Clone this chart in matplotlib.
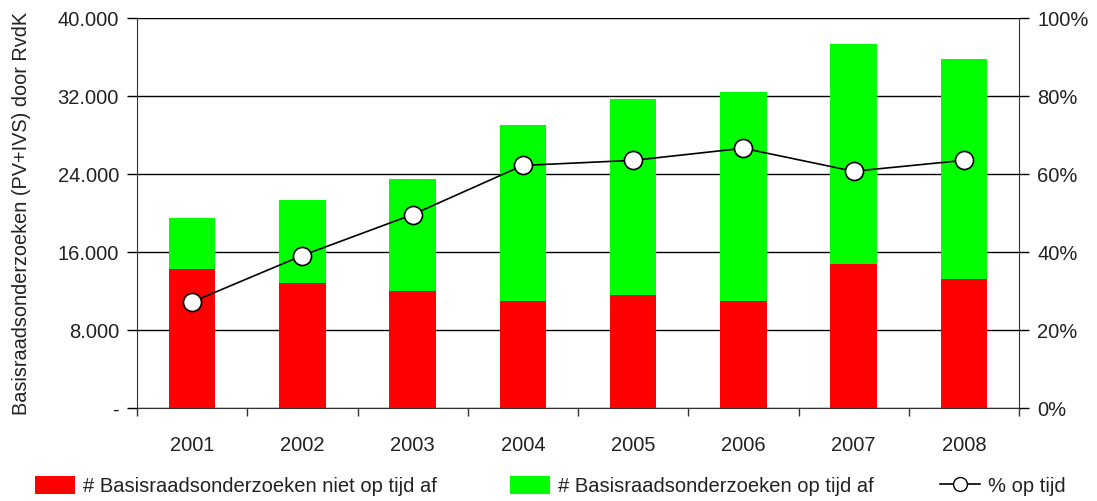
import matplotlib.pyplot as plt
from matplotlib.ticker import FuncFormatter, FixedLocator
from matplotlib.patches import Patch
from matplotlib.lines import Line2D

plt.rcParams['font.family'] = ['Liberation Sans', 'DejaVu Sans']

# data
years = ["2001", "2002", "2003", "2004", "2005", "2006", "2007", "2008"]
niet_op_tijd = [14300, 12850, 12000, 11000, 11600, 11000, 14800, 13200]
op_tijd = [5200, 8450, 11500, 18000, 20100, 21400, 22500, 22600]
pct_op_tijd = [27.2, 39.1, 49.6, 62.2, 63.5, 66.6, 60.7, 63.5]

RED = "#ff0000"
GREEN = "#00ff00"
TXT = "#222222"

fig = plt.figure(figsize=(10.97, 5.01), dpi=100)
ax = fig.add_axes([137 / 1097, 1 - 408 / 501, (1019 - 137) / 1097, (408 - 18) / 501])

x = list(range(len(years)))
ax.bar(x, niet_op_tijd, width=0.42, color=RED, zorder=2)
ax.bar(x, op_tijd, width=0.42, bottom=niet_op_tijd, color=GREEN, zorder=2)

ax.set_xlim(-0.5, len(years) - 0.5)
ax.set_ylim(0, 40000)
ax.set_yticks([0, 8000, 16000, 24000, 32000, 40000])
ax.yaxis.set_major_formatter(FuncFormatter(
    lambda v, p: "-" if v == 0 else f"{int(v):,}".replace(",", ".")))
ax.grid(axis="y", color="black", linewidth=1.0, zorder=0)
ax.set_axisbelow(True)

ax.set_xticks(x)
ax.set_xticklabels(years, fontsize=14.5)
ax.xaxis.set_minor_locator(FixedLocator([i - 0.5 for i in range(len(years) + 1)]))
ax.tick_params(axis="x", which="major", length=0, pad=20, labelcolor=TXT)
ax.tick_params(axis="x", which="minor", length=6, width=1, color="#333333")
ax.tick_params(axis="y", length=7, width=1, labelsize=14.5, pad=6, labelcolor=TXT)

ax.spines["top"].set_visible(False)
ax.spines["right"].set_visible(False)
for s in ["left", "bottom"]:
    ax.spines[s].set_color("#333333")

ax.set_ylabel("Basisraadsonderzoeken (PV+IVS) door RvdK", fontsize=14.3, color=TXT)
ax.yaxis.set_label_coords(-0.12, 0.5)

ax2 = ax.twinx()
ax2.plot(x, pct_op_tijd, color="black", linewidth=1.2, marker="o", markersize=13,
         markerfacecolor="white", markeredgecolor="black", markeredgewidth=1.2, zorder=3)
ax2.set_ylim(0, 100)
ax2.set_yticks([0, 20, 40, 60, 80, 100])
ax2.yaxis.set_major_formatter(FuncFormatter(lambda v, p: f"{int(v)}%"))
ax2.tick_params(axis="y", length=7, width=1, labelsize=14.5, pad=6, labelcolor=TXT)
for s in ["top", "left", "bottom"]:
    ax2.spines[s].set_visible(False)
ax2.spines["right"].set_color("#333333")

handles = [
    Patch(facecolor=RED, edgecolor="none", label="# Basisraadsonderzoeken niet op tijd af"),
    Patch(facecolor=GREEN, edgecolor="none", label="# Basisraadsonderzoeken op tijd af"),
    Line2D([], [], color="black", linewidth=1.2, marker="o", markersize=10,
           markerfacecolor="white", markeredgecolor="black", label="% op tijd"),
]
legend_x = [35 / 1097, 510 / 1097, 940 / 1097]
for h, lx in zip(handles, legend_x):
    leg = fig.legend(handles=[h], loc="center left", bbox_to_anchor=(lx, 1 - 486 / 501),
                     frameon=False, prop={"size": 14.5}, handlelength=2.0,
                     handleheight=1.0, handletextpad=0.4, borderpad=0, borderaxespad=0)
    for t in leg.get_texts():
        t.set_color(TXT)

fig.savefig("out.png", dpi=100)
